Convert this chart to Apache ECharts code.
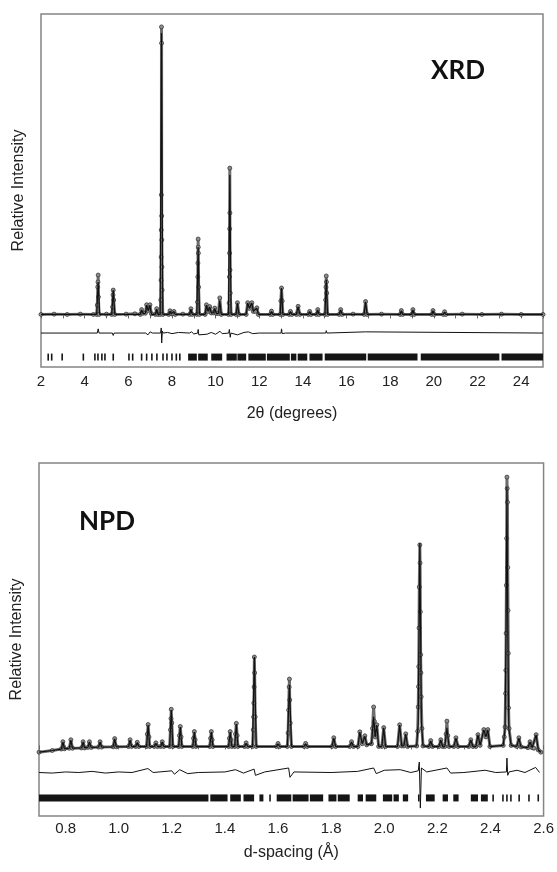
<!DOCTYPE html>
<html>
<head>
<meta charset="utf-8">
<script src="https://cdn.jsdelivr.net/npm/echarts/dist/echarts.min.js"></script>
<style>
  html, body { margin: 0; padding: 0; background: #fff; }
  #main { width: 557px; height: 872px; }
</style>
</head>
<body>
<div id="main"></div>
<script>
// XRD pattern: [2theta, relative intensity]
var xrdCalc = [
  [2.0,0],[4.55,0],[4.62,10.8],[4.69,0],[5.24,0],[5.31,8.1],[5.38,0],
  [6.55,0],[6.61,1.5],[6.67,0.3],[6.78,0.3],[6.84,3.1],[6.91,1.2],[6.99,3.1],[7.06,0],[7.24,0],[7.30,1.8],[7.36,0],
  [7.46,0],[7.52,93.7],[7.58,0],[7.85,0],[7.91,1.1],[7.97,0.2],[8.03,0.2],[8.09,1.0],[8.15,0],[8.81,0],[8.87,1.8],[8.93,0],
  [9.14,0],[9.20,22.4],[9.26,0],[9.52,0],[9.58,3.1],[9.65,1.0],[9.73,2.5],[9.80,0.5],[9.90,0.5],[9.96,2.0],[10.03,0.3],
  [10.13,0.3],[10.19,4.5],[10.26,0],[10.59,0],[10.65,46.4],[10.71,0],[10.94,0],[11.0,3.8],[11.07,0],
  [11.40,0],[11.47,3.8],[11.55,2.0],[11.66,3.8],[11.73,1.0],[11.82,1.0],[11.89,2.1],[11.96,0],
  [12.50,0],[12.56,1.0],[12.62,0],[12.96,0],[13.02,8.8],[13.08,0],[13.37,0],[13.43,1.0],[13.49,0],[13.70,0],[13.78,2.6],[13.86,0],
  [14.25,0],[14.31,1.0],[14.37,0],[14.62,0],[14.68,1.5],[14.74,0],[15.01,0],[15.07,11.5],[15.13,0],
  [15.66,0],[15.73,1.5],[15.80,0],[16.80,0],[16.87,4.2],[16.94,0],[18.45,0],[18.51,1.2],[18.57,0],
  [18.98,0],[19.04,1.5],[19.10,0],[19.90,0],[19.96,1.2],[20.02,0],[20.43,0],[20.49,0.8],[20.55,0],[25,0]
];
var xrdObs = [
  [2.0,0],[2.6,0.1],[3.2,0],[3.8,0.1],[4.4,0],[4.55,0],[4.58,3.1],[4.60,9.1],[4.61,10.8],[4.62,13.1],[4.63,5.8],[4.66,0],
  [5.0,0.1],[5.24,0],[5.28,2.5],[5.30,6.5],[5.31,8.1],[5.33,4.8],[5.38,0],
  [5.9,0.1],[6.3,0.2],[6.55,0],[6.61,1.6],[6.67,0.4],[6.78,0.4],[6.84,3.2],[6.91,1.3],[6.99,3.2],[7.06,0.2],[7.24,0],[7.30,1.9],[7.36,0],
  [7.46,0],[7.49,4.8],[7.50,11.4],[7.505,19.1],[7.51,28.1],[7.515,39.8],[7.52,95.7],[7.525,90.3],[7.53,32.8],[7.535,24.8],[7.54,15.8],[7.55,8.1],[7.58,0],
  [7.85,0],[7.91,1.2],[7.97,0.2],[8.03,0.2],[8.09,1.0],[8.15,0],[8.5,0.1],[8.81,0],[8.87,1.9],[8.93,0],
  [9.14,0],[9.17,4.1],[9.185,12.5],[9.19,17.1],[9.20,25.1],[9.205,22.4],[9.21,20.4],[9.22,9.1],[9.26,0],
  [9.52,0],[9.58,3.2],[9.65,1.0],[9.73,2.6],[9.80,0.5],[9.90,0.5],[9.96,2.1],[10.03,0.3],[10.13,0.3],[10.19,5.5],[10.26,0],
  [10.59,0],[10.62,3.8],[10.635,12.5],[10.64,20.4],[10.645,28.5],[10.65,48.7],[10.655,33.8],[10.66,14.8],[10.67,7.1],[10.71,0],
  [10.94,0],[11.0,3.9],[11.07,0],[11.40,0],[11.47,3.9],[11.55,2.0],[11.66,3.9],[11.73,1.0],[11.82,1.0],[11.89,2.2],[11.96,0],
  [12.50,0],[12.56,1.1],[12.62,0],[12.96,0],[12.99,4.5],[13.02,8.8],[13.05,4.5],[13.08,0],[13.37,0],[13.43,1.0],[13.49,0],
  [13.70,0],[13.78,2.7],[13.86,0],[14.25,0],[14.31,1.0],[14.37,0],[14.62,0],[14.68,1.6],[14.74,0],
  [15.01,0],[15.04,4.8],[15.055,9.1],[15.07,12.8],[15.08,10.8],[15.09,7.1],[15.13,0],
  [15.66,0],[15.73,1.6],[15.80,0],[16.3,0.1],[16.80,0],[16.87,4.3],[16.94,0],[17.6,0.1],[18.45,0],[18.51,1.3],[18.57,0],
  [18.98,0],[19.04,1.6],[19.10,0],[19.90,0],[19.96,1.3],[20.02,0],[20.43,0],[20.49,0.9],[20.55,0],
  [21.3,0.1],[22.2,0],[23.1,0.1],[24.0,0],[25,0]
];
var xrdDiff = [
  [2,-6.2],[4.58,-6.2],[4.62,-4.8],[4.66,-6.2],[5.27,-6.2],[5.31,-7.0],[5.35,-6.2],[6.8,-6.2],[6.9,-6.8],[7.0,-5.8],[7.1,-6.2],
  [7.48,-6.2],[7.51,-4.5],[7.53,-9.5],[7.56,-5.5],[7.6,-6.2],[7.8,-6.0],[8.0,-6.4],[8.3,-6.0],[8.8,-6.2],[8.9,-5.8],[9.0,-6.5],
  [9.18,-6.2],[9.20,-5.0],[9.23,-6.8],[9.3,-6.2],[9.6,-6.6],[9.8,-6.0],[10.0,-6.6],[10.2,-5.6],[10.3,-6.4],[10.6,-6.2],
  [10.63,-5.0],[10.67,-7.6],[10.7,-6.2],[11.0,-6.8],[11.3,-6.0],[11.5,-5.8],[11.7,-6.4],[12.0,-6.2],[13.0,-6.2],[13.02,-4.8],
  [13.05,-6.4],[13.2,-6.2],[15.05,-6.2],[15.07,-5.4],[15.1,-6.2],[16.87,-5.8],[16.9,-6.2],[25,-6.2]
];
// reflection markers: single positions and runs of merged markers [from, to]
var xrdTicks = [2.33,2.49,2.97,3.94,4.47,4.61,4.79,4.93,5.31,6.03,6.2,6.61,6.84,7.08,7.31,7.59,7.77,8.0,8.2,8.36];
var xrdBands = [[8.74,9.14],[9.2,9.64],[9.8,10.3],[10.5,10.97],[11.0,11.4],[11.5,12.3],[12.35,13.4],[13.45,13.7],
  [13.76,14.2],[14.3,14.9],[15.0,16.9],[16.97,19.25],[19.4,23.0],[23.1,25.0]];
var xrdTickLevel = -14.2;

// NPD pattern: [d-spacing, relative intensity]
var npdCalc = [
  [0.70,-2.4],[0.75,-1.8],[0.784,-1.3],[0.79,1.2],[0.796,-1.2],[0.814,-1.0],[0.82,1.9],[0.826,-1.0],[0.86,-0.9],[0.866,1.2],
  [0.872,-0.9],[0.884,-0.7],[0.89,1.2],[0.896,-0.7],[0.924,-0.6],[0.93,1.2],[0.936,-0.6],[0.979,-0.5],[0.985,2.3],[0.991,-0.5],
  [1.037,-0.4],[1.043,1.9],[1.049,-0.4],[1.064,-0.4],[1.07,1.0],[1.076,-0.4],[1.105,-0.4],[1.111,7.2],[1.117,-0.4],
  [1.134,-0.4],[1.14,0.8],[1.146,-0.4],[1.158,-0.4],[1.164,1.2],[1.170,-0.4],[1.192,-0.4],[1.198,12.5],[1.204,-0.4],
  [1.226,-0.4],[1.232,6.5],[1.238,-0.4],[1.279,-0.4],[1.285,4.7],[1.291,-0.4],[1.343,-0.4],[1.349,4.7],[1.355,-0.4],
  [1.414,-0.4],[1.42,4.7],[1.426,-0.4],[1.437,-0.4],[1.443,7.6],[1.449,-0.4],[1.474,-0.4],[1.48,0.8],[1.486,-0.4],
  [1.504,-0.4],[1.511,31.3],[1.518,-0.4],[1.594,-0.4],[1.60,0.6],[1.606,-0.4],[1.635,-0.4],[1.643,21.4],[1.651,-0.4],
  [1.698,-0.4],[1.704,0.6],[1.710,-0.4],[1.803,-0.4],[1.81,2.6],[1.817,-0.4],[1.870,-0.4],[1.877,1.2],[1.884,-0.4],
  [1.901,-0.4],[1.908,4.7],[1.917,0.6],[1.927,3.3],[1.934,0.2],[1.952,0.6],[1.96,10.1],[1.966,3.0],[1.972,7.2],[1.979,-0.4],
  [1.991,-0.4],[1.998,6.2],[2.005,-0.4],[2.05,-0.4],[2.058,7.2],[2.066,-0.2],[2.074,-0.2],[2.081,4.0],[2.088,-0.4],
  [2.122,-0.2],[2.128,8],[2.131,40],[2.134,71.7],[2.137,40],[2.140,8],[2.146,-0.2],[2.168,-0.4],[2.175,1.6],[2.182,-0.4],
  [2.206,-0.4],[2.213,1.9],[2.220,-0.4],[2.228,-0.4],[2.236,6.2],[2.244,-0.4],[2.262,-0.4],[2.27,2.6],[2.278,-0.4],
  [2.318,-0.4],[2.326,1.9],[2.334,-0.4],[2.345,-0.4],[2.353,3.7],[2.361,0],[2.375,5.5],[2.383,3.0],[2.39,5.5],[2.398,-0.4],
  [2.448,0],[2.455,6],[2.459,45],[2.462,91.5],[2.465,45],[2.469,6],[2.478,0],[2.499,-0.4],[2.507,2.6],[2.515,-0.5],
  [2.541,-0.8],[2.549,1.2],[2.557,-0.8],[2.564,-1.0],[2.572,3.7],[2.58,-1.6],[2.59,-2.4]
];
var npdObs = [
  [0.70,-2.4],[0.75,-1.8],[0.784,-1.3],[0.79,1.3],[0.796,-1.2],[0.814,-1.0],[0.82,2.0],[0.826,-1.0],[0.86,-0.9],[0.866,1.3],
  [0.872,-0.9],[0.884,-0.7],[0.89,1.3],[0.896,-0.7],[0.924,-0.6],[0.93,1.3],[0.936,-0.6],[0.979,-0.5],[0.985,2.4],[0.991,-0.5],
  [1.037,-0.4],[1.043,2.0],[1.049,-0.4],[1.064,-0.4],[1.07,1.1],[1.076,-0.4],
  [1.105,-0.4],[1.108,4.0],[1.111,7.4],[1.114,3.0],[1.117,-0.4],[1.134,-0.4],[1.14,0.9],[1.146,-0.4],[1.158,-0.4],[1.164,1.3],[1.170,-0.4],
  [1.192,-0.4],[1.195,5.5],[1.197,9.5],[1.198,12.8],[1.200,8.0],[1.204,-0.4],
  [1.226,-0.4],[1.229,3.5],[1.232,6.7],[1.235,3.0],[1.238,-0.4],
  [1.279,-0.4],[1.282,2.5],[1.285,4.9],[1.288,2.0],[1.291,-0.4],
  [1.343,-0.4],[1.346,2.5],[1.349,4.9],[1.352,2.0],[1.355,-0.4],
  [1.414,-0.4],[1.417,2.5],[1.42,4.9],[1.423,2.0],[1.426,-0.4],[1.437,-0.4],[1.44,4.0],[1.443,7.8],[1.446,3.5],[1.449,-0.4],
  [1.474,-0.4],[1.48,0.9],[1.486,-0.4],
  [1.504,-0.4],[1.507,5.5],[1.508,10.1],[1.509,15.0],[1.510,20.7],[1.511,31.3],[1.512,25.7],[1.514,10.1],[1.518,-0.4],
  [1.594,-0.4],[1.60,0.7],[1.606,-0.4],
  [1.635,-0.4],[1.638,4.4],[1.640,12.5],[1.642,20.7],[1.643,23.5],[1.644,16.1],[1.646,7.9],[1.651,-0.4],
  [1.698,-0.4],[1.704,0.7],[1.710,-0.4],[1.803,-0.4],[1.81,2.7],[1.817,-0.4],[1.870,-0.4],[1.877,1.3],[1.884,-0.4],
  [1.901,-0.4],[1.908,4.8],[1.917,0.6],[1.927,3.4],[1.934,0.2],[1.952,0.6],[1.956,6.0],[1.96,13.6],[1.963,8.5],[1.966,3.0],
  [1.972,7.3],[1.979,-0.4],[1.991,-0.4],[1.998,6.3],[2.005,-0.4],[2.05,-0.4],[2.058,7.3],[2.066,-0.2],[2.074,-0.2],[2.081,4.1],[2.088,-0.4],
  [2.122,-0.2],[2.126,5],[2.128,13.6],[2.129,20.8],[2.130,27.9],[2.131,41.6],[2.132,56.1],[2.134,71.0],[2.135,64.6],
  [2.136,47.3],[2.137,32.1],[2.138,25.7],[2.139,17.2],[2.142,6],[2.146,-0.2],
  [2.168,-0.4],[2.175,1.7],[2.182,-0.4],[2.206,-0.4],[2.213,2.0],[2.220,-0.4],
  [2.228,-0.4],[2.233,4.0],[2.236,8.6],[2.239,3.5],[2.244,-0.4],[2.262,-0.4],[2.27,2.7],[2.278,-0.4],
  [2.318,-0.4],[2.326,2.0],[2.334,-0.4],[2.345,-0.4],[2.353,3.8],[2.361,0],[2.375,5.6],[2.383,3.0],[2.39,5.6],[2.398,-0.4],
  [2.448,0],[2.452,3],[2.455,6.5],[2.457,18.4],[2.458,26.6],[2.459,39.7],[2.460,56.7],[2.461,73.3],[2.462,95.0],
  [2.463,91.0],[2.464,86.1],[2.465,63.0],[2.466,47.8],[2.467,32.6],[2.468,13.3],[2.470,6],[2.478,0],
  [2.499,-0.4],[2.507,2.7],[2.515,-0.5],[2.541,-0.8],[2.549,1.3],[2.557,-0.8],[2.564,-1.0],[2.572,3.8],[2.58,-1.6],[2.59,-2.4]
];
var npdDiff = [
  [0.7,-9.6],[0.75,-9.8],[0.8,-9.4],[0.85,-9.6],[0.9,-9.2],[0.95,-9.8],[1.0,-9.4],[1.05,-9.6],[1.11,-8.2],[1.13,-9.6],
  [1.2,-9.0],[1.21,-10.2],[1.23,-8.6],[1.26,-10.0],[1.3,-9.6],[1.4,-9.4],[1.44,-8.6],[1.47,-9.8],[1.51,-8.4],[1.515,-10.6],
  [1.55,-9.4],[1.64,-8.0],[1.645,-11.3],[1.66,-9.4],[1.8,-9.6],[1.9,-9.2],[1.96,-8.0],[1.97,-10.0],[2.0,-8.8],[2.06,-8.6],
  [2.1,-9.6],[2.128,-9.0],[2.132,-5.9],[2.136,-22.2],[2.14,-8.0],[2.16,-9.4],[2.236,-8.0],[2.25,-9.8],[2.3,-9.6],
  [2.38,-8.8],[2.42,-9.6],[2.46,-9.4],[2.462,-4.5],[2.465,-10.6],[2.47,-9.4],[2.5,-8.8],[2.53,-9.6],[2.57,-7.8],[2.585,-9.6]
];
var npdTicks = [1.57,2.13,2.41,2.447,2.462,2.477,2.508,2.545,2.58];
var npdBands = [[0.7,1.338],[1.345,1.41],[1.42,1.46],[1.47,1.51],[1.53,1.545],[1.595,1.65],[1.655,1.715],[1.72,1.77],
  [1.79,1.82],[1.825,1.87],[1.9,1.92],[1.93,1.97],[1.995,2.03],[2.035,2.055],[2.07,2.09],[2.157,2.19],[2.22,2.24],
  [2.26,2.28],[2.326,2.353],[2.364,2.39]];
var npdTickLevel = -18.6;

var FONT = '"Liberation Sans", Arial, sans-serif';
var TEXT = '#222';

function markerItems(ticks, bands) {
  return ticks.map(function (t) { return [t, t]; }).concat(bands);
}
function markerRender(level) {
  return function (params, api) {
    var a = api.coord([api.value(0), level]);
    var b = api.coord([api.value(1), level]);
    var w = b[0] - a[0];
    var x = a[0];
    if (w < 1.6) { x = a[0] - 0.8; w = 1.6; }
    return { type: 'rect', shape: { x: x, y: a[1] - 3.5, width: w, height: 7 }, style: { fill: '#151515' } };
  };
}

function xAxisFor(idx, min, max, step, name, fmt, gap, margin) {
  return {
    gridIndex: idx, type: 'value', min: min, max: max, interval: step,
    axisLine: { show: false },
    axisTick: { show: true, length: 4, lineStyle: { color: '#666', width: 1 } },
    axisLabel: { margin: margin, fontSize: 15, color: TEXT, fontFamily: FONT, formatter: fmt },
    splitLine: { show: false },
    name: name, nameLocation: 'middle', nameGap: gap,
    nameTextStyle: { fontSize: 16, color: TEXT, fontFamily: FONT }
  };
}
function yAxisFor(idx, min, max) {
  return {
    gridIndex: idx, type: 'value', min: min, max: max,
    axisLine: { show: false }, axisTick: { show: false }, axisLabel: { show: false }, splitLine: { show: false },
    name: 'Relative Intensity', nameLocation: 'middle', nameGap: 14,
    nameTextStyle: { fontSize: 16, color: TEXT, fontFamily: FONT }
  };
}
function obsSeries(idx, data) {
  return {
    type: 'line', xAxisIndex: idx, yAxisIndex: idx, data: data, z: 2,
    symbol: 'circle', symbolSize: 4,
    lineStyle: { width: 3, color: '#6e6e6e' },
    itemStyle: { color: '#8c8c8c', borderColor: '#3a3a3a', borderWidth: 0.8 }
  };
}
function lineSeries(idx, data, w) {
  return {
    type: 'line', xAxisIndex: idx, yAxisIndex: idx, data: data, z: 3,
    symbol: 'none', lineStyle: { width: w, color: '#111' }
  };
}

var chart = echarts.init(document.getElementById('main'));
chart.setOption({
  animation: false,
  backgroundColor: '#fff',
  grid: [
    { left: 41, top: 14, right: 14, height: 353, show: true, borderColor: '#858585', borderWidth: 1.5 },
    { left: 39, top: 463, right: 13, height: 353, show: true, borderColor: '#858585', borderWidth: 1.5 }
  ],
  xAxis: [
    xAxisFor(0, 2, 25, 1, '2θ (degrees)', function (v) { return v % 2 === 0 ? String(v) : ''; }, 39, 7),
    xAxisFor(1, 0.7, 2.6, 0.1, 'd-spacing (Å)', function (v) {
      return Math.round(v * 10) % 2 === 0 ? v.toFixed(1) : '';
    }, 29, 5)
  ],
  yAxis: [yAxisFor(0, -17.5, 100), yAxisFor(1, -25, 100)],
  graphic: [
    { type: 'text', x: 458, y: 71, style: { text: 'XRD', font: 'bold 26px Lato, "Open Sans", sans-serif', fill: '#111', textAlign: 'center', textVerticalAlign: 'middle' } },
    { type: 'text', x: 107, y: 522, style: { text: 'NPD', font: 'bold 26px Lato, "Open Sans", sans-serif', fill: '#111', textAlign: 'center', textVerticalAlign: 'middle' } }
  ],
  series: [
    obsSeries(0, xrdObs),
    lineSeries(0, xrdCalc, 1.2),
    lineSeries(0, xrdDiff, 1),
    { type: 'custom', xAxisIndex: 0, yAxisIndex: 0, data: markerItems(xrdTicks, xrdBands), renderItem: markerRender(xrdTickLevel), z: 3 },
    obsSeries(1, npdObs),
    lineSeries(1, npdCalc, 1.2),
    lineSeries(1, npdDiff, 1),
    { type: 'custom', xAxisIndex: 1, yAxisIndex: 1, data: markerItems(npdTicks, npdBands), renderItem: markerRender(npdTickLevel), z: 3 }
  ]
});
</script>
</body>
</html>
